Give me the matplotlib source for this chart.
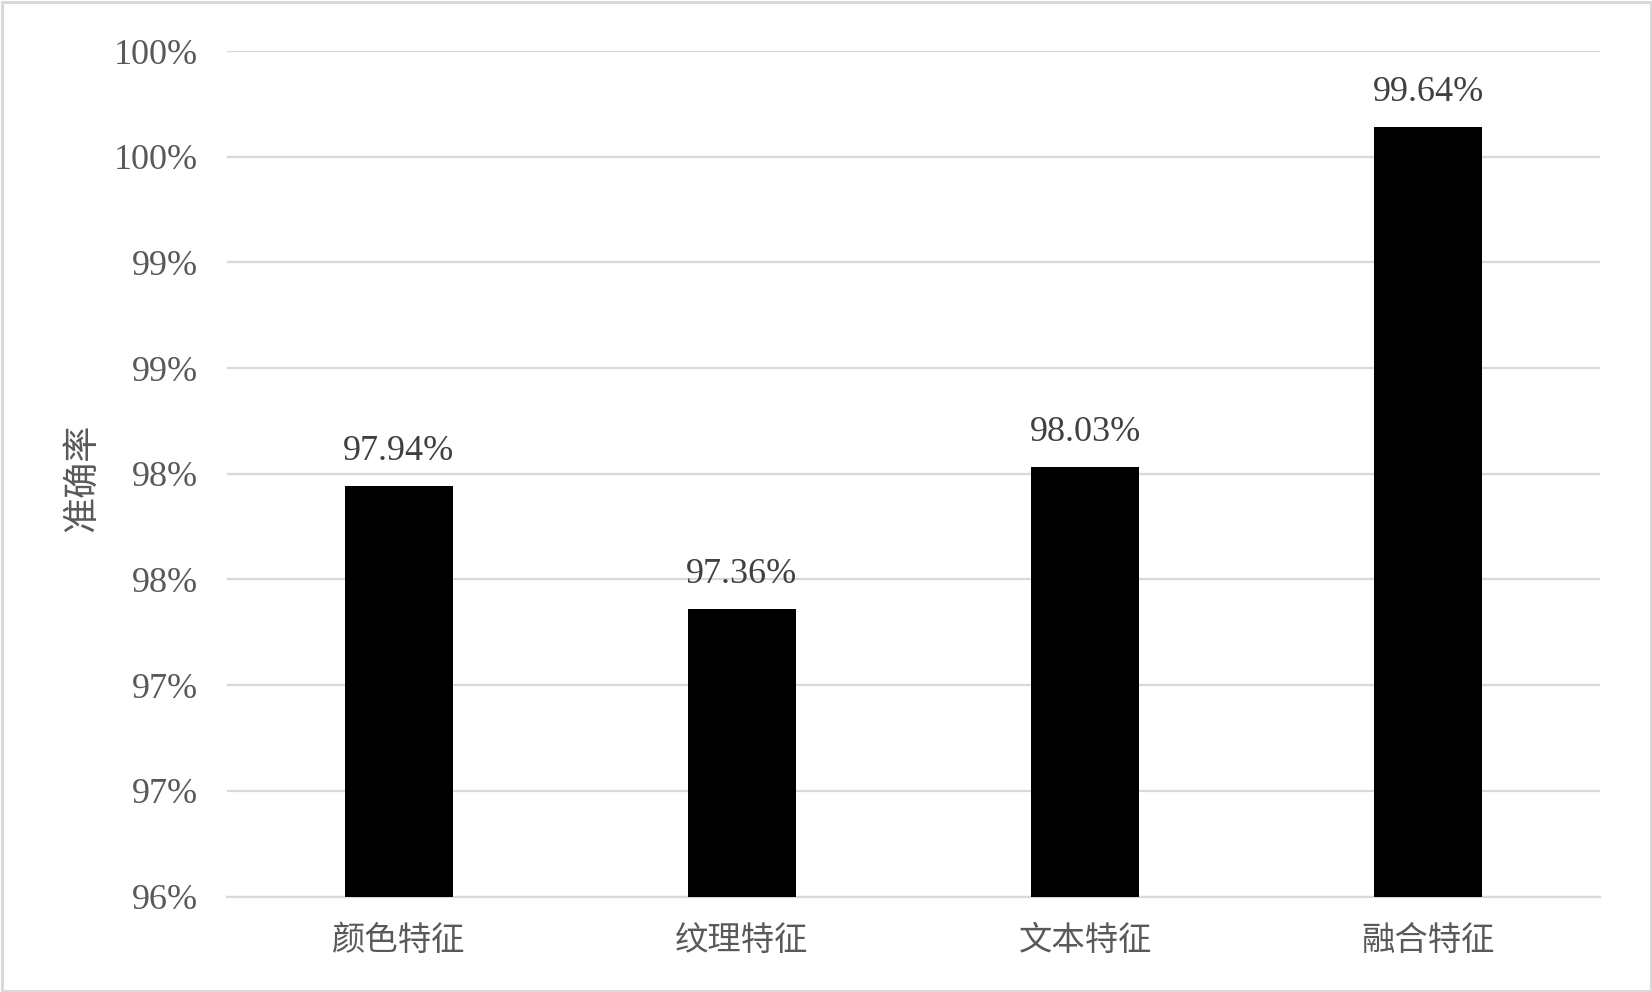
import matplotlib
matplotlib.use("Agg")
import matplotlib.pyplot as plt
from matplotlib.patches import Rectangle

categories = ['颜色特征', '纹理特征', '文本特征', '融合特征']
accuracy = [97.94, 97.36, 98.03, 99.64]
value_labels = ['97.94%', '97.36%', '98.03%', '99.64%']
ytick_values = [96.0, 96.5, 97.0, 97.5, 98.0, 98.5, 99.0, 99.5, 100.0]
ytick_labels = ['96%', '97%', '97%', '98%', '98%', '99%', '99%', '100%', '100%']
ylabel = '准确率'

plt.rcParams['font.family'] = ['Liberation Serif', 'Noto Sans CJK SC']
text_color = '#595959'
grid_color = '#d9d9d9'

W, H = 1652, 992
fig = plt.figure(figsize=(W / 100, H / 100), dpi=100)
fig.patch.set_facecolor('white')
fig.patches.append(Rectangle((1.5 / W, 1.5 / H), 1 - 3 / W, 1 - 3 / H,
                             transform=fig.transFigure, fill=False,
                             edgecolor=grid_color, linewidth=2.2))

left, right, top, bottom = 227, 1600, 51, 896.5
ax = fig.add_axes([left / W, 1 - bottom / H, (right - left) / W, (bottom - top) / H])

x = range(len(categories))
bars = ax.bar(x, accuracy, width=0.315, color='black', zorder=3)
ax.set_xlim(-0.5, len(categories) - 0.5)
ax.set_ylim(96.0, 100.0)

ax.set_yticks(ytick_values)
ax.set_yticklabels(ytick_labels, fontsize=26, color=text_color,
                   family='Liberation Serif')
ax.set_xticks(list(x))
ax.set_xticklabels(categories, fontsize=24, color=text_color,
                   family='Noto Sans CJK SC')
ax.tick_params(axis='y', length=0, pad=21)
ax.tick_params(axis='x', length=0, pad=19)

ax.grid(axis='y', color=grid_color, linewidth=1.6, zorder=0)
ax.set_axisbelow(True)
for s in ['top', 'right', 'left']:
    ax.spines[s].set_visible(False)
ax.spines['bottom'].set_color(grid_color)
ax.spines['bottom'].set_linewidth(1.6)

for xi, v, lab in zip(x, accuracy, value_labels):
    ax.annotate(lab, xy=(xi, v), xytext=(0, 19), textcoords='offset points',
                ha='center', va='baseline', fontsize=26, color='#404040',
                family='Liberation Serif')

fig.text(82 / W, 1 - 478 / H, ylabel, rotation=90, ha='center', va='center',
         fontsize=26, color=text_color, family='Noto Sans CJK SC')

fig.savefig('out.png', dpi=100, facecolor='white')
